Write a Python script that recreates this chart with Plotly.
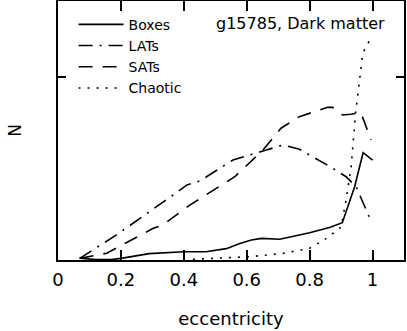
import plotly.graph_objects as go

# Datos (N en unidades arbitrarias, tick de referencia en 1)
boxes_x = [0.069, 0.12, 0.17, 0.20, 0.29, 0.40, 0.47, 0.535, 0.578, 0.615, 0.647, 0.705, 0.80, 0.863, 0.904, 0.943, 0.970, 1.0]
boxes_y = [0.01, 0.002, 0.002, 0.009, 0.035, 0.045, 0.045, 0.062, 0.09, 0.109, 0.118, 0.113, 0.149, 0.177, 0.204, 0.40, 0.586, 0.546]

lats_x = [0.069, 0.186, 0.366, 0.41, 0.451, 0.556, 0.652, 0.715, 0.768, 0.874, 0.916, 0.948, 0.996]
lats_y = [0.009, 0.137, 0.355, 0.41, 0.432, 0.546, 0.596, 0.628, 0.605, 0.501, 0.455, 0.40, 0.209]

sats_x = [0.069, 0.155, 0.303, 0.333, 0.419, 0.562, 0.651, 0.709, 0.767, 0.857, 0.873, 0.905, 0.931, 0.963, 0.995]
sats_y = [0.009, 0.037, 0.173, 0.191, 0.30, 0.455, 0.60, 0.72, 0.783, 0.834, 0.834, 0.792, 0.796, 0.805, 0.656]

chaotic_x = [0.429, 0.503, 0.61, 0.715, 0.80, 0.853, 0.90, 0.916, 0.932, 0.946, 0.959, 0.969, 0.996]
chaotic_y = [0.004, 0.009, 0.018, 0.036, 0.064, 0.118, 0.18, 0.33, 0.51, 0.80, 1.0, 1.13, 1.217]

x_ticks = [0, 0.2, 0.4, 0.6, 0.8, 1]
x_labels = ['0', '0.2', '0.4', '0.6', '0.8', '1']

font = 'DejaVu Sans'

fig = go.Figure()
fig.add_trace(go.Scatter(x=boxes_x, y=boxes_y, mode='lines', name='Boxes',
                         line=dict(color='black', width=1.6)))
fig.add_trace(go.Scatter(x=lats_x, y=lats_y, mode='lines', name='LATs',
                         line=dict(color='black', width=1.6, dash='14px,7px,2px,7px')))
fig.add_trace(go.Scatter(x=sats_x, y=sats_y, mode='lines', name='SATs',
                         line=dict(color='black', width=1.6, dash='14px,10px')))
fig.add_trace(go.Scatter(x=chaotic_x, y=chaotic_y, mode='lines', name='Chaotic',
                         line=dict(color='black', width=1.6, dash='2px,7px')))

fig.add_annotation(text='g15785, Dark matter', xref='paper', yref='paper',
                   x=0.70, y=0.915, xanchor='center', yanchor='middle', showarrow=False,
                   font=dict(family=font, size=16, color='black'))

fig.update_xaxes(range=[0, 1.1], tickvals=x_ticks, ticktext=x_labels,
                 ticks='inside', ticklen=10, tickwidth=1.5, tickcolor='black',
                 showline=True, linecolor='black', linewidth=1.5, mirror='ticks',
                 showgrid=False, zeroline=False, automargin=False, ticklabelstandoff=3,
                 tickfont=dict(family=font, size=18, color='black'),
                 title=dict(text='eccentricity', standoff=23,
                            font=dict(family=font, size=18, color='black')))
fig.update_yaxes(range=[0, 1.415], tickvals=[0, 1], showticklabels=False,
                 ticks='inside', ticklen=8, tickwidth=1.5, tickcolor='black',
                 showline=True, linecolor='black', linewidth=1.5, mirror='ticks',
                 showgrid=False, zeroline=False, automargin=False,
                 title=dict(text='N', standoff=30,
                            font=dict(family=font, size=17, color='black')))

fig.update_layout(
    width=407, height=331,
    margin=dict(l=58, r=3, t=1, b=71),
    plot_bgcolor='white', paper_bgcolor='white',
    legend=dict(x=0.045, y=0.97, xanchor='left', yanchor='top', itemwidth=45,
                bgcolor='rgba(0,0,0,0)', tracegroupgap=0,
                font=dict(family=font, size=14, color='black')),
)

# quitar el margen del body y la barra de herramientas
fig.write_html('out.html', config={'displayModeBar': False},
               post_script="document.body.style.margin='0';")
